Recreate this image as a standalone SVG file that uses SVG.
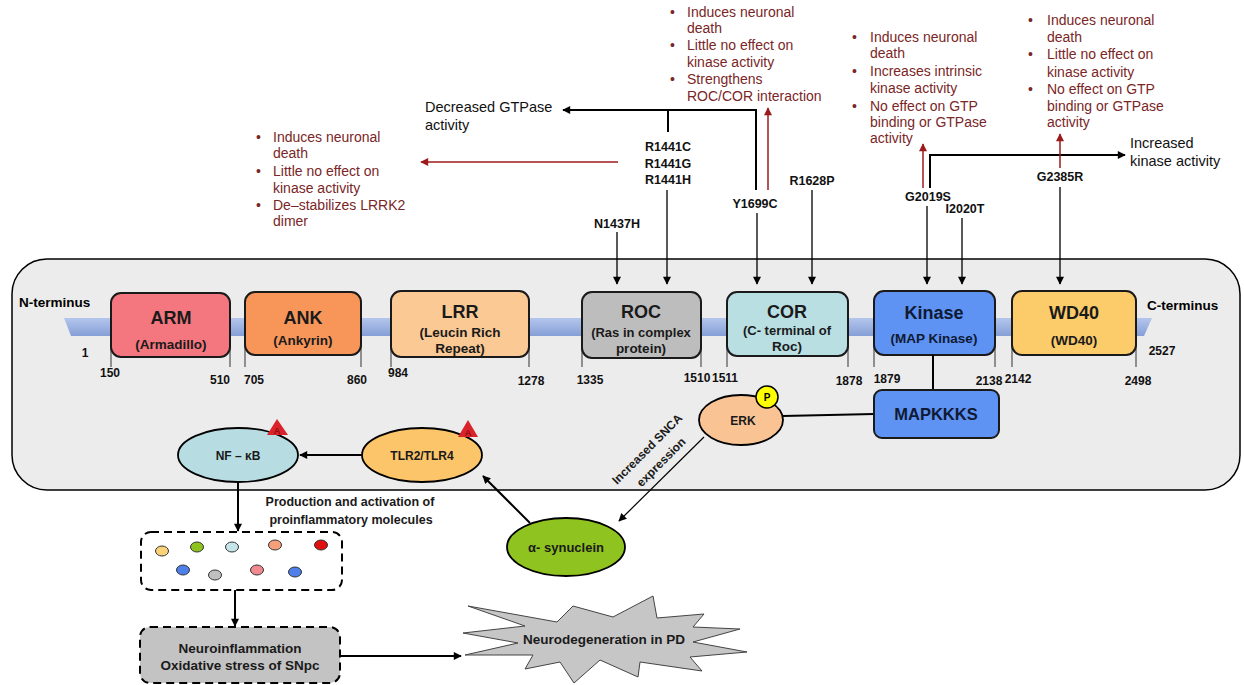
<svg xmlns="http://www.w3.org/2000/svg" width="1244" height="685" viewBox="0 0 1244 685">
<defs>
<marker id="ab" viewBox="0 0 10 10" refX="9" refY="5" markerWidth="10" markerHeight="8" markerUnits="userSpaceOnUse" orient="auto"><path d="M0,0 L10,5 L0,10 z" fill="#000"/></marker>
<marker id="ar" viewBox="0 0 10 10" refX="9" refY="5" markerWidth="10" markerHeight="8" markerUnits="userSpaceOnUse" orient="auto"><path d="M0,0 L10,5 L0,10 z" fill="#9b1b1b"/></marker>
<linearGradient id="bar" x1="0" y1="0" x2="0" y2="1"><stop offset="0" stop-color="#b4c6ec"/><stop offset="1" stop-color="#859fd6"/></linearGradient>
</defs>
<style>
text{font-family:"Liberation Sans",Arial,sans-serif}
.ann{font-size:14px;fill:#7a2626}
.blk{font-size:14.5px;fill:#111}
.mut{font-size:12.5px;font-weight:bold;text-anchor:middle;fill:#111}
.num{font-size:12px;font-weight:bold;text-anchor:middle;fill:#111}
.dt{font-size:18px;font-weight:bold;text-anchor:middle;fill:#1a1a1a}
.ds{font-size:13.5px;font-weight:bold;text-anchor:middle;fill:#1a1a1a}
.lb{font-size:12px;font-weight:bold;text-anchor:middle;fill:#1a1a1a}
.c{stroke:#000;stroke-width:1.8;fill:none}
.r{stroke:#9b1b1b;stroke-width:1.5;fill:none}
.box{stroke:#1a1a1a;stroke-width:2}
.tick{stroke:#333;stroke-width:1}
.dash{stroke:#000;stroke-width:2;stroke-dasharray:8 5}
.tri{fill:#d9222a}
.tA{font-size:9px;fill:#6a0000;text-anchor:middle}
</style>

<!-- Cell / protein background -->
<rect id="cell" x="12" y="259" width="1228" height="231" rx="35" fill="#ececec" stroke="#000" stroke-width="1.5"/>
<polygon id="backbone" points="64,318 1152,318 1144,336 71,336" fill="url(#bar)"/>
<text x="19" y="307" style="font-size:13.5px;font-weight:bold">N-terminus</text>
<text x="1147" y="310" style="font-size:13.5px;font-weight:bold">C-terminus</text>

<!-- ticks -->
<g id="ticks" class="tick">
<line x1="111" y1="336" x2="111" y2="367"/><line x1="230" y1="336" x2="230" y2="367"/>
<line x1="245" y1="336" x2="245" y2="367"/><line x1="361" y1="336" x2="361" y2="367"/>
<line x1="391" y1="336" x2="391" y2="367"/><line x1="529" y1="336" x2="529" y2="367"/>
<line x1="582" y1="336" x2="582" y2="367"/><line x1="701" y1="336" x2="701" y2="367"/>
<line x1="727" y1="336" x2="727" y2="367"/><line x1="848" y1="336" x2="848" y2="367"/>
<line x1="874" y1="336" x2="874" y2="367"/><line x1="995" y1="336" x2="995" y2="367"/>
<line x1="1012" y1="336" x2="1012" y2="367"/><line x1="1136" y1="336" x2="1136" y2="367"/>
</g>
<g id="tick-labels">
<text class="num" x="85" y="357">1</text>
<text class="num" x="110" y="377">150</text>
<text class="num" x="220" y="384">510</text>
<text class="num" x="254" y="384">705</text>
<text class="num" x="357" y="384">860</text>
<text class="num" x="398" y="377">984</text>
<text class="num" x="531" y="385">1278</text>
<text class="num" x="590" y="384">1335</text>
<text class="num" x="697" y="382">1510</text>
<text class="num" x="725" y="382">1511</text>
<text class="num" x="849" y="385">1878</text>
<text class="num" x="887" y="383">1879</text>
<text class="num" x="989" y="385">2138</text>
<text class="num" x="1018" y="383">2142</text>
<text class="num" x="1138" y="385">2498</text>
<text class="num" x="1162" y="355">2527</text>
</g>

<!-- Domains -->
<g id="ARM"><rect class="box" x="111" y="293" width="119" height="64" rx="10" fill="#f4777f"/><text class="dt" x="171" y="324">ARM</text><text class="ds" x="171" y="349">(Armadillo)</text></g>
<g id="ANK"><rect class="box" x="245" y="292" width="116" height="63" rx="10" fill="#f8965a"/><text class="dt" x="303" y="324">ANK</text><text class="ds" x="303" y="345">(Ankyrin)</text></g>
<g id="LRR"><rect class="box" x="391" y="291" width="138" height="66" rx="10" fill="#fbc994"/><text class="dt" x="460" y="318">LRR</text><text class="ds" x="460" y="337">(Leucin Rich</text><text class="ds" x="460" y="353">Repeat)</text></g>
<g id="ROC"><rect class="box" x="582" y="292" width="119" height="66" rx="10" fill="#bdbdbd"/><text class="dt" x="641" y="318">ROC</text><text class="ds" x="641" y="337" style="font-size:13px">(Ras in complex</text><text class="ds" x="641" y="353">protein)</text></g>
<g id="COR"><rect class="box" x="727" y="292" width="121" height="64" rx="10" fill="#b9dfe3"/><text class="dt" x="787" y="318">COR</text><text class="ds" x="787" y="335" style="font-size:13px">(C- terminal of</text><text class="ds" x="787" y="351">Roc)</text></g>
<g id="Kinase"><rect class="box" x="874" y="291" width="121" height="64" rx="10" fill="#5e92f3"/><text class="dt" x="934" y="319" style="fill:#0f1a33">Kinase</text><text class="ds" x="934" y="343" style="fill:#0f1a33">(MAP Kinase)</text></g>
<g id="WD40"><rect class="box" x="1012" y="291" width="124" height="64" rx="10" fill="#fccb6a"/><text class="dt" x="1074" y="319">WD40</text><text class="ds" x="1074" y="345">(WD40)</text></g>

<!-- Connectors -->
<g id="connectors">
<polyline class="c" points="756,190 756,110 563,110" marker-end="url(#ab)" style="stroke-width:2"/>
<line class="c" x1="668" y1="110" x2="668" y2="132" style="stroke-width:2"/>
<line class="r" x1="768" y1="190" x2="768" y2="108" marker-end="url(#ar)"/>
<line class="r" x1="618" y1="162" x2="421" y2="162" marker-end="url(#ar)"/>
<line class="c" x1="617" y1="232" x2="617" y2="284" marker-end="url(#ab)" style="stroke-width:1.3"/>
<line class="c" x1="667" y1="190" x2="667" y2="284" marker-end="url(#ab)" style="stroke-width:1.3"/>
<line class="c" x1="757" y1="213" x2="757" y2="284" marker-end="url(#ab)" style="stroke-width:1.3"/>
<line class="c" x1="812" y1="190" x2="812" y2="284" marker-end="url(#ab)" style="stroke-width:1.3"/>
<line class="c" x1="927" y1="206" x2="927" y2="284" marker-end="url(#ab)" style="stroke-width:1.3"/>
<line class="c" x1="962" y1="218" x2="962" y2="284" marker-end="url(#ab)" style="stroke-width:1.3"/>
<line class="c" x1="1060" y1="187" x2="1060" y2="284" marker-end="url(#ab)" style="stroke-width:1.3"/>
<polyline class="c" points="930,188 930,155 1125,155" marker-end="url(#ab)" style="stroke-width:2"/>
<line class="r" x1="923" y1="188" x2="923" y2="144" marker-end="url(#ar)"/>
<line class="r" x1="1060" y1="168" x2="1060" y2="134" marker-end="url(#ar)"/>
<line class="c" x1="933" y1="355" x2="933" y2="390" style="stroke-width:2"/>
<line class="c" x1="783" y1="416" x2="874" y2="414" style="stroke-width:2"/>
<line class="c" x1="704" y1="437" x2="619" y2="521" marker-end="url(#ab)" style="stroke-width:1.2"/>
<line class="c" x1="362" y1="455" x2="300" y2="455" marker-end="url(#ab)" style="stroke-width:2"/>
<line class="c" x1="530" y1="523" x2="483" y2="476" marker-end="url(#ab)" style="stroke-width:2"/>
<line class="c" x1="238" y1="482" x2="238" y2="531" marker-end="url(#ab)" style="stroke-width:2"/>
<line class="c" x1="235" y1="590" x2="235" y2="626" marker-end="url(#ab)" style="stroke-width:2"/>
<line class="c" x1="340" y1="656" x2="461" y2="656" marker-end="url(#ab)" style="stroke-width:2"/>
</g>

<!-- Mutation labels -->
<g id="mutations">
<text class="mut" x="668" y="151">R1441C</text>
<text class="mut" x="668" y="168">R1441G</text>
<text class="mut" x="668" y="184">R1441H</text>
<text class="mut" x="617" y="228">N1437H</text>
<text class="mut" x="755" y="208">Y1699C</text>
<text class="mut" x="812" y="185">R1628P</text>
<text class="mut" x="928" y="201">G2019S</text>
<text class="mut" x="965" y="213">I2020T</text>
<text class="mut" x="1060" y="181">G2385R</text>
</g>

<!-- Effect texts -->
<g id="effect-gtpase"><text class="blk" x="425" y="112">Decreased GTPase</text><text class="blk" x="425" y="130">activity</text></g>
<g id="effect-kinase"><text class="blk" x="1130" y="148">Increased</text><text class="blk" x="1130" y="166">kinase activity</text></g>

<g id="ann-R1441" class="ann">
<text x="256" y="142">•</text><text x="273" y="142">Induces neuronal</text><text x="273" y="158">death</text>
<text x="256" y="176">•</text><text x="273" y="176">Little no effect on</text><text x="273" y="193">kinase activity</text>
<text x="256" y="210">•</text><text x="273" y="210">De–stabilizes LRRK2</text><text x="273" y="226">dimer</text>
</g>
<g id="ann-Y1699C" class="ann">
<text x="670" y="17">•</text><text x="687" y="17">Induces neuronal</text><text x="687" y="33">death</text>
<text x="670" y="50">•</text><text x="687" y="50">Little no effect on</text><text x="687" y="67">kinase activity</text>
<text x="670" y="84">•</text><text x="687" y="84">Strengthens</text><text x="687" y="101">ROC/COR interaction</text>
</g>
<g id="ann-G2019S" class="ann">
<text x="852" y="42">•</text><text x="870" y="42">Induces neuronal</text><text x="870" y="58">death</text>
<text x="852" y="76">•</text><text x="870" y="76">Increases intrinsic</text><text x="870" y="93">kinase activity</text>
<text x="852" y="111">•</text><text x="870" y="111">No effect on GTP</text><text x="870" y="127">binding or GTPase</text><text x="870" y="143">activity</text>
</g>
<g id="ann-G2385R" class="ann">
<text x="1028" y="25">•</text><text x="1047" y="25">Induces neuronal</text><text x="1047" y="42">death</text>
<text x="1028" y="59">•</text><text x="1047" y="59">Little no effect on</text><text x="1047" y="77">kinase activity</text>
<text x="1028" y="94">•</text><text x="1047" y="94">No effect on GTP</text><text x="1047" y="111">binding or GTPase</text><text x="1047" y="127">activity</text>
</g>

<!-- Pathway nodes -->
<g id="MAPKKKS"><rect class="box" x="874" y="390" width="125" height="48" rx="8" fill="#5e92f3"/><text x="936" y="420" style="font-size:16.5px;font-weight:bold;text-anchor:middle;fill:#0f1a33">MAPKKKS</text></g>
<g id="ERK"><ellipse cx="741" cy="420" rx="42" ry="25" fill="#f9c394" stroke="#000" stroke-width="1.8"/><text class="lb" x="743" y="425">ERK</text>
<circle cx="767" cy="397" r="11" fill="#ffff00" stroke="#000" stroke-width="1.5"/><text x="767" y="401" style="font-size:10px;font-weight:bold;text-anchor:middle">P</text></g>
<g id="NFkB"><ellipse cx="238" cy="455" rx="60" ry="27" fill="#b7dde3" stroke="#000" stroke-width="1.8"/><text class="lb" x="238" y="460">NF – κB</text>
<polygon class="tri" points="277,419 267,435 288,435"/><text class="tA" x="277" y="434">A</text></g>
<g id="TLR"><ellipse cx="422" cy="455" rx="60" ry="27" fill="#fcc56a" stroke="#000" stroke-width="1.8"/><text class="lb" x="422" y="460">TLR2/TLR4</text>
<polygon class="tri" points="468,420 458,437 478,437"/><text class="tA" x="468" y="436">A</text></g>
<g id="synuclein"><ellipse cx="566" cy="547" rx="59" ry="29" fill="#8fc31f" stroke="#000" stroke-width="1.8"/><text x="566" y="552" style="font-size:13px;font-weight:bold;text-anchor:middle;fill:#1a1a1a">α- synuclein</text></g>
<g id="snca-label"><text transform="translate(650,452) rotate(-45)" style="font-size:12px;font-weight:bold;text-anchor:middle;fill:#1a1a1a">Increased SNCA</text><text transform="translate(664,465) rotate(-45)" style="font-size:12px;font-weight:bold;text-anchor:middle;fill:#1a1a1a">expression</text></g>

<g id="production-label"><text x="350" y="506" style="font-size:12.5px;font-weight:bold;text-anchor:middle;fill:#1a1a1a">Production and activation of</text><text x="351" y="524" style="font-size:12.5px;font-weight:bold;text-anchor:middle;fill:#1a1a1a">proinflammatory molecules</text></g>

<g id="molecules">
<rect class="dash" x="141" y="532" width="201" height="58" rx="10" fill="#fff"/>
<g stroke="#333" stroke-width="1">
<ellipse cx="162" cy="551" rx="6.5" ry="5" fill="#f9d27a"/>
<ellipse cx="197" cy="547" rx="6.5" ry="5" fill="#8ec21e"/>
<ellipse cx="232" cy="547" rx="6.5" ry="5" fill="#c6e5ea"/>
<ellipse cx="275" cy="545" rx="6.5" ry="5" fill="#f5a07a"/>
<ellipse cx="321" cy="545" rx="6.5" ry="5" fill="#e01010"/>
<ellipse cx="183" cy="570" rx="6.5" ry="5" fill="#4f7fe8"/>
<ellipse cx="215" cy="575" rx="6.5" ry="5" fill="#c0c0c0"/>
<ellipse cx="257" cy="570" rx="6.5" ry="5" fill="#f08a90"/>
<ellipse cx="295" cy="572" rx="6.5" ry="5" fill="#4f7fe8"/>
</g>
</g>

<g id="neuroinflammation"><rect class="dash" x="140" y="627" width="200" height="56" rx="10" fill="#c3c3c3"/>
<text x="240" y="653" style="font-size:13.5px;font-weight:bold;text-anchor:middle;fill:#1a1a1a">Neuroinflammation</text>
<text x="240" y="670" style="font-size:13.5px;font-weight:bold;text-anchor:middle;fill:#1a1a1a">Oxidative stress of SNpc</text></g>

<g id="neurodegeneration"><polygon points="468,606 525,626 463,633 518,643 465,655 533,655 525,669 560,662 574,683 600,660 638,677 640,662 702,671 690,657 747,652 693,642 740,629 693,627 704,614 657,618 653,596 613,617 573,606 557,622" fill="#c6c6c6" stroke="#444" stroke-width="1"/>
<text x="604" y="644" style="font-size:13.5px;font-weight:bold;text-anchor:middle;fill:#1a1a1a">Neurodegeneration in PD</text></g>
</svg>
